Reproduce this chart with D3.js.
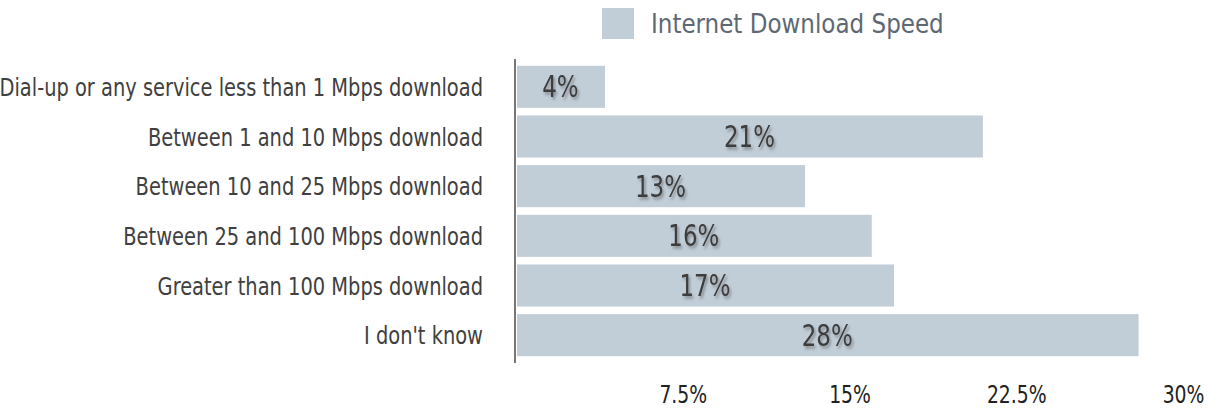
<!DOCTYPE html>
<html>
<head>
<meta charset="utf-8">
<script src="https://cdn.jsdelivr.net/npm/d3@7"></script>
<style>
  html, body { margin: 0; padding: 0; background: #fff; }
  svg { display: block; }
  text { font-family: "DejaVu Sans Condensed", "Liberation Sans Narrow", sans-serif; }
</style>
</head>
<body>
<svg id="chart" width="1219" height="409"></svg>
<script>
// Share of respondents by home internet download speed
const categories = [
  "Dial-up or any service less than 1 Mbps download",
  "Between 1 and 10 Mbps download",
  "Between 10 and 25 Mbps download",
  "Between 25 and 100 Mbps download",
  "Greater than 100 Mbps download",
  "I don't know"
];
const values = [4, 21, 13, 16, 17, 28];
const tickValues = [7.5, 15, 22.5, 30];
const tickLabels = ["7.5%", "15%", "22.5%", "30%"];
const seriesName = "Internet Download Speed";

const barColor = "#c1cdd7";
const svg = d3.select("#chart");

const x = d3.scaleLinear().domain([0, 30]).range([516, 1183]);
const y = d3.scaleBand()
  .domain(categories)
  .range([62, 360])
  .paddingInner(0.153)
  .paddingOuter(0.0765);

// narrow the glyphs horizontally around each text's own anchor point
function squeeze(sel, k) {
  sel.each(function () {
    const t = d3.select(this);
    const x0 = +(t.attr("x") || 0);
    t.attr("transform", `translate(${x0},0) scale(${k},1) translate(${-x0},0)`);
  });
}

// soft shadow behind the value labels
const defs = svg.append("defs");
const f = defs.append("filter").attr("id", "labelShadow")
  .attr("x", "-20%").attr("y", "-20%").attr("width", "150%").attr("height", "160%");
f.append("feDropShadow")
  .attr("dx", 2).attr("dy", 2.5).attr("stdDeviation", 1.4)
  .attr("flood-color", "#555").attr("flood-opacity", 0.55);

// bars
svg.append("g").selectAll("rect")
  .data(categories)
  .join("rect")
  .attr("x", x(0) + 1)
  .attr("y", d => y(d))
  .attr("width", (d, i) => x(values[i]) - x(0) - 1)
  .attr("height", y.bandwidth())
  .attr("fill", barColor);

// value labels centred in each bar
svg.append("g").selectAll("text")
  .data(categories)
  .join("text")
  .attr("x", (d, i) => (x(0) + x(values[i])) / 2)
  .attr("y", d => y(d) + y.bandwidth() / 2)
  .attr("dy", "0.35em")
  .attr("text-anchor", "middle")
  .attr("font-size", 30)
  .attr("fill", "#3d3d3d")
  .attr("filter", "url(#labelShadow)")
  .text((d, i) => values[i] + "%")
  .call(squeeze, 0.85);

// category axis
const yAxis = svg.append("g")
  .attr("transform", `translate(${x(0) - 1},0)`)
  .call(d3.axisLeft(y).tickSize(0).tickPadding(32));
yAxis.select(".domain").remove();
yAxis.append("line")
  .attr("x1", 0).attr("x2", 0)
  .attr("y1", 59).attr("y2", 363)
  .attr("stroke", "#4a4a4a").attr("stroke-width", 1.5);
yAxis.selectAll(".tick text")
  .attr("font-size", 24)
  .attr("fill", "#404040")
  .attr("dy", "0.38em")
  .call(squeeze, 0.9);

// value axis (labels only)
const xAxis = svg.append("g")
  .attr("transform", "translate(0,380)")
  .call(d3.axisBottom(x).tickValues(tickValues).tickSize(0).tickPadding(0)
    .tickFormat((d, i) => tickLabels[i]));
xAxis.select(".domain").remove();
xAxis.selectAll(".tick text")
  .attr("font-size", 24)
  .attr("fill", "#222")
  .attr("dy", "0.95em")
  .call(squeeze, 0.87);

// legend
const legend = svg.append("g").attr("transform", "translate(602,8)");
legend.append("rect")
  .attr("width", 32).attr("height", 31)
  .attr("fill", barColor);
legend.append("text")
  .attr("x", 49).attr("y", 25.5)
  .attr("font-size", 26)
  .attr("fill", "#5e6873")
  .text(seriesName)
  .call(squeeze, 0.985);
</script>
</body>
</html>
